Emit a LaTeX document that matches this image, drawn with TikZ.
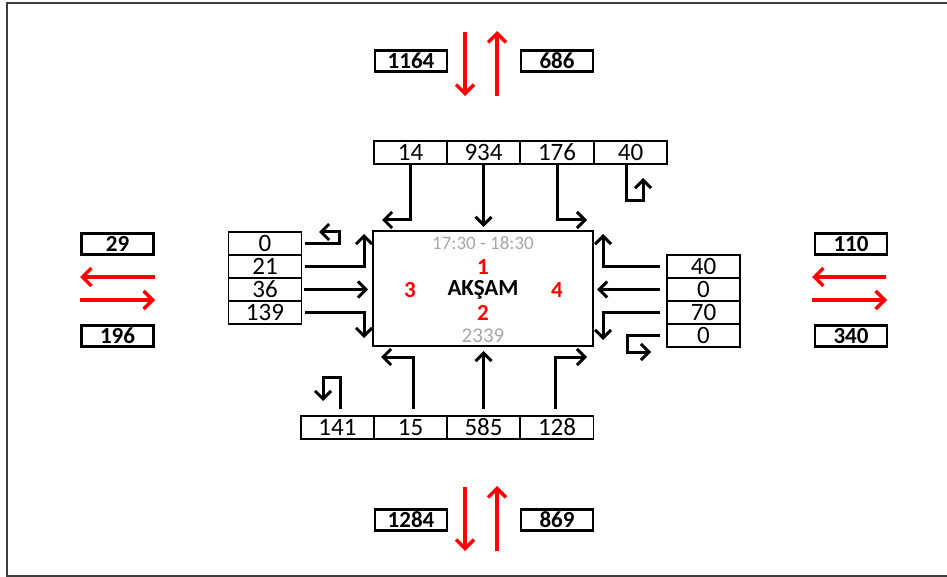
\documentclass[tikz,border=0pt]{standalone}
\usepackage{fontspec}
\setmainfont{Carlito}
\usetikzlibrary{arrows.meta}
\definecolor{tgray}{RGB}{166,166,166}
\definecolor{bordergray}{RGB}{60,60,60}
\tikzset{
  cell/.style={draw, line width=1.5pt, minimum width=73pt, minimum height=23pt, inner sep=0pt, font=\fontsize{25}{25}\selectfont},
  total/.style={draw, line width=2.5pt, minimum width=72pt, minimum height=21pt, inner sep=0pt, font=\fontsize{23}{23}\selectfont\bfseries},
  arr/.style={line width=3pt, -{Straight Barb[length=8pt,width=16pt]}},
  rarr/.style={line width=3.5pt, red, -{Straight Barb[length=9pt,width=18pt]}},
  graytxt/.style={text=tgray, font=\fontsize{21}{21}\selectfont, inner sep=0pt},
  redtxt/.style={text=red, font=\fontsize{23}{23}\selectfont\bfseries, inner sep=0pt},
}
\begin{document}
\begin{tikzpicture}[x=1pt, y=-1pt]
\useasboundingbox (0,0) rectangle (947,577);
% outer frame
\draw[bordergray, line width=1.5pt] (948,3) -- (7,3) -- (7,576) -- (948,576);

% main box
\node[draw, line width=2.5pt, minimum width=220pt, minimum height=115pt, inner sep=0pt] (mainbox) at (483,288.5) {};
\node[graytxt, font=\fontsize{19}{19}\selectfont] (time) at (483,243) {17:30 - 18:30};
\node[redtxt] (n1) at (483,267) {1};
\node[redtxt] (n3) at (410,290) {3};
\node[font=\fontsize{23}{23}\selectfont\bfseries, inner sep=0pt] (aksam) at (483,290) {AKŞAM};
\node[redtxt] (n4) at (557,290) {4};
\node[redtxt] (n2) at (483,313) {2};
\node[graytxt] (tot) at (483,336) {2339};

% top cells
\node[cell] (t14) at (410.5,152.5) {14};
\node[cell] (t934) at (483.5,152.5) {934};
\node[cell] (t176) at (557,152.5) {176};
\node[cell] (t40) at (630.5,152.5) {40};

% left cells
\node[cell] (l0) at (265,243.5) {0};
\node[cell] (l21) at (265,266.5) {21};
\node[cell] (l36) at (265,289.5) {36};
\node[cell] (l139) at (265,312.5) {139};

% right cells
\node[cell] (r40) at (703.5,266.5) {40};
\node[cell] (r0a) at (703.5,289.5) {0};
\node[cell] (r70) at (703.5,312.5) {70};
\node[cell] (r0b) at (703.5,335.5) {0};

% bottom cells
\node[cell] (b141) at (337.5,427.5) {141};
\node[cell] (b15) at (410.5,427.5) {15};
\node[cell] (b585) at (483.5,427.5) {585};
\node[cell] (b128) at (557,427.5) {128};

% totals
\node[total] (T1164) at (411,61) {1164};
\node[total] (T686) at (557,61) {686};
\node[total] (T1284) at (411,520) {1284};
\node[total] (T869) at (557,520) {869};
\node[total] (T29) at (117.5,244) {29};
\node[total] (T196) at (117.5,336) {196};
\node[total] (T110) at (851,244) {110};
\node[total] (T340) at (851,336) {340};

% arrow end coordinates
\coordinate (t14e) at (382,220);
\coordinate (t934e) at (483.5,227);
\coordinate (t176e) at (587,220);
\coordinate (t40e) at (643,178);
\coordinate (l0e) at (319,232);
\coordinate (l21e) at (364,234);
\coordinate (l36e) at (368,289.5);
\coordinate (l139e) at (364,338);
\coordinate (r40e) at (603,234);
\coordinate (r0ae) at (597,289.5);
\coordinate (r70e) at (603,340);
\coordinate (r0be) at (651,352);
\coordinate (b141e) at (323,401);
\coordinate (b15e) at (381,357);
\coordinate (b585e) at (483.5,351);
\coordinate (b128e) at (587,357);

% top approach
\draw[arr] (t14.south) |- (t14e);
\draw[arr] (t934.south) -- (t934e);
\draw[arr] (t176.south) |- (t176e);
\draw[arr] ([xshift=-4pt]t40.south) -- ++(0,36) -| (t40e);

% left approach
\draw[arr] ([xshift=3pt]l0.east) -- (339,243.5) -- (339,232) -- (l0e);
\draw[arr] ([xshift=3pt]l21.east) -| (l21e);
\draw[arr] ([xshift=2pt]l36.east) -- (l36e);
\draw[arr] ([xshift=3pt]l139.east) -| (l139e);

% right approach
\draw[arr] ([xshift=-6pt]r40.west) -| (r40e);
\draw[arr] ([xshift=-6pt]r0a.west) -- (r0ae);
\draw[arr] ([xshift=-6pt]r70.west) -| (r70e);
\draw[arr] ([xshift=-6pt]r0b.west) -- (627,335.5) |- (r0be);

% bottom approach
\draw[arr] ([shift={(2.5,-6)}]b141.north) -- (340,377) -| (b141e);
\draw[arr] ([shift={(2.5,-6)}]b15.north) |- (b15e);
\draw[arr] ([yshift=6pt]b585.north) -- (b585e);
\draw[arr] ([shift={(-2,-6)}]b128.north) |- (b128e);

% red flow arrows
\coordinate (ntd1) at (465,32); \coordinate (ntd2) at (465,96);
\coordinate (ntu1) at (497,96); \coordinate (ntu2) at (497,31);
\draw[rarr] (ntd1) -- (ntd2);
\draw[rarr] (ntu1) -- (ntu2);
\coordinate (sbd1) at (465,487); \coordinate (sbd2) at (465,551);
\coordinate (sbu1) at (497,551); \coordinate (sbu2) at (497,486);
\draw[rarr] (sbd1) -- (sbd2);
\draw[rarr] (sbu1) -- (sbu2);
\coordinate (wl1) at (155,277); \coordinate (wl2) at (80,277);
\coordinate (wr1) at (80,300); \coordinate (wr2) at (155,300);
\draw[rarr] (wl1) -- (wl2);
\draw[rarr] (wr1) -- (wr2);
\coordinate (el1) at (886,277); \coordinate (el2) at (812,277);
\coordinate (er1) at (812,300); \coordinate (er2) at (887,300);
\draw[rarr] (el1) -- (el2);
\draw[rarr] (er1) -- (er2);
\end{tikzpicture}
\end{document}
